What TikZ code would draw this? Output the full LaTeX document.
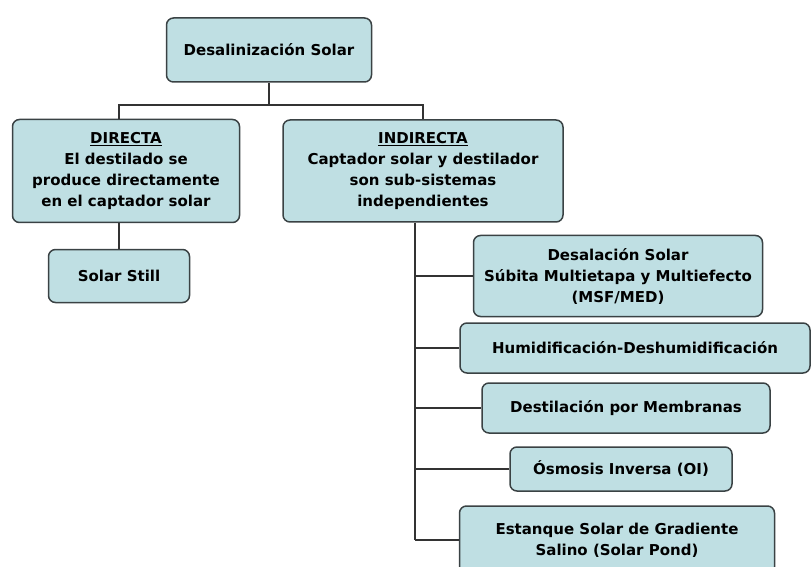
\documentclass[tikz,border=0pt]{standalone}
\usepackage{fontspec}
\setmainfont{DejaVu Sans}
\usepackage{tikz}
\definecolor{boxfill}{HTML}{BFDFE3}
\definecolor{boxline}{HTML}{3A4244}
\definecolor{wire}{HTML}{333333}

\begin{document}
\begin{tikzpicture}[x=1pt,y=-1pt]
    \tikzset{
      box/.style={rounded corners=7pt,draw=boxline,fill=boxfill,line width=1.5pt,align=center,inner sep=0pt,font=\bfseries\fontsize{15}{21}\selectfont},
      link/.style={draw=wire,line width=1.5pt}
    }
    \useasboundingbox (0,0) rectangle (812,567);
    \node[box,minimum width=205pt,minimum height=64pt] (root) at (269,50) {Desalinización Solar};
    \node[box,minimum width=227pt,minimum height=103pt] (directa) at (126,171) {\underline{DIRECTA}\\El destilado se\\produce directamente\\en el captador solar};
    \node[box,minimum width=280pt,minimum height=102pt] (indirecta) at (423,171) {\underline{INDIRECTA}\\Captador solar y destilador\\son sub-sistemas\\independientes};
    \node[box,minimum width=141pt,minimum height=53pt] (still) at (119,276) {Solar Still};
    \node[box,minimum width=289pt,minimum height=81pt] (msf) at (618,276) {Desalación Solar\\Súbita Multietapa y Multiefecto\\(MSF/MED)};
    \node[box,minimum width=350pt,minimum height=50pt] (humid) at (635,348) {Humidificación-Deshumidificación};
    \node[box,minimum width=288pt,minimum height=50pt] (membr) at (626,408) {Destilación por Membranas};
    \node[box,minimum width=222pt,minimum height=44pt] (osmo) at (621,469) {Ósmosis Inversa (OI)};
    \node[box,minimum width=315pt,minimum height=68pt] (pond) at (617,540) {Estanque Solar de Gradiente\\Salino (Solar Pond)};
    \coordinate (bus) at (0,105);
    \coordinate (spine) at (415,0);
    % upper tree
    \draw[link] (root.south) -- (root.south |- bus);
    \draw[link] (still.north |- directa.north) -- (still.north |- bus) -- (indirecta.north |- bus) -- (indirecta.north);
    \draw[link] (still.north |- directa.south) -- (still.north);
    % indirect branches
    \draw[link] (spine |- indirecta.south) -- (spine |- pond.west);
    \foreach \n in {msf,humid,membr,osmo,pond}
      \draw[link] (spine |- \n.west) -- (\n.west);
\end{tikzpicture}
\end{document}
